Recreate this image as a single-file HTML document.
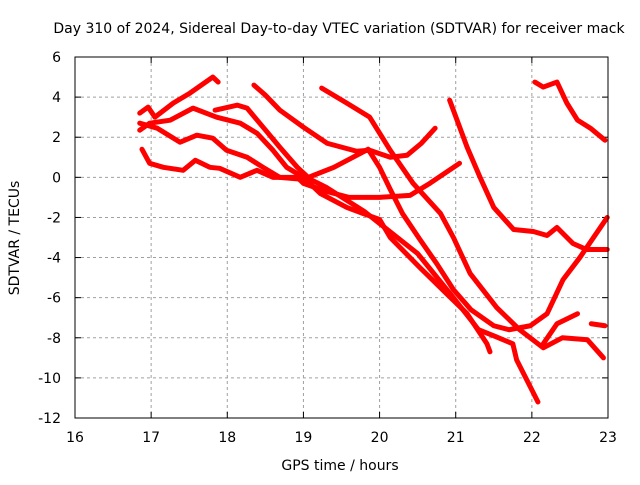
<!DOCTYPE html>
<html><head><meta charset="utf-8"><style>
body{margin:0;background:#fff;}
svg text{font-family:"DejaVu Sans","Liberation Sans",sans-serif;font-size:14px;fill:#000;}
</style></head><body>
<svg id="chart" width="640" height="480" xmlns="http://www.w3.org/2000/svg">
<rect width="640" height="480" fill="#fff"/>
<text x="339" y="33" text-anchor="middle">Day 310 of 2024, Sidereal Day-to-day VTEC variation (SDTVAR) for receiver mack</text>
<text x="340" y="470" text-anchor="middle">GPS time / hours</text>
<text transform="translate(19,238) rotate(-90)" text-anchor="middle">SDTVAR / TECUs</text>
<g id="grid"></g><g id="ticks"></g><g id="series"></g>
<rect x="75" y="57" width="533" height="361" fill="none" stroke="#000" stroke-width="1"/>
</svg>
<script>
const xTicks=[16,17,18,19,20,21,22,23];
const yTicks=[-12,-10,-8,-6,-4,-2,0,2,4,6];
const s1=[[16.85,3.2],[16.96,3.5],[17.05,3.0],[17.29,3.7],[17.51,4.2],[17.81,5.0],[17.88,4.75]];
const s2=[[16.85,2.35],[16.98,2.7],[17.25,2.85],[17.55,3.45],[17.86,3.0],[18.17,2.7],[18.39,2.2],[18.6,1.35],[18.78,0.5],[19.0,0.0],[19.22,-0.8],[19.57,-1.5],[19.78,-1.8],[20.0,-2.1],[20.14,-3.0],[20.53,-4.5],[20.88,-5.8],[21.15,-6.8],[21.41,-8.3],[21.45,-8.7]];
const s3=[[17.84,3.35],[18.13,3.6],[18.26,3.45],[18.47,2.5],[18.69,1.5],[18.92,0.5],[19.09,-0.1],[19.3,-0.5],[19.8,-1.7],[20.1,-2.6],[20.5,-3.8],[20.97,-6.0],[21.3,-7.6],[21.5,-7.9],[21.75,-8.3],[21.8,-9.1],[22.08,-11.2]];
const s4=[[16.85,2.7],[17.08,2.45],[17.38,1.75],[17.6,2.1],[17.81,1.95],[17.99,1.35],[18.26,1.0],[18.47,0.5],[18.69,0.0],[19.0,-0.1],[19.2,0.2],[19.4,0.5],[19.6,0.9],[19.85,1.4],[20.0,0.5],[20.14,-0.6],[20.3,-1.8],[20.53,-3.1],[20.75,-4.3],[20.97,-5.6],[21.2,-6.6],[21.5,-7.4],[21.7,-7.6],[21.98,-7.4],[22.2,-6.8],[22.41,-5.1],[22.63,-4.0],[22.99,-2.0]];
const s5=[[16.88,1.4],[16.98,0.7],[17.16,0.5],[17.42,0.35],[17.58,0.85],[17.77,0.5],[17.9,0.45],[18.17,0.0],[18.39,0.35],[18.6,0.0],[18.92,0.0],[19.0,-0.3],[19.3,-0.7],[19.6,-1.0],[20.0,-1.0],[20.4,-0.9],[20.66,-0.3],[21.05,0.7]];
const s6=[[18.35,4.6],[18.5,4.1],[18.69,3.35],[19.0,2.5],[19.31,1.7],[19.7,1.3],[19.87,1.35],[20.14,1.0],[20.36,1.1],[20.55,1.7],[20.73,2.45]];
const s7=[[19.24,4.45],[19.57,3.7],[19.87,3.0],[20.14,1.35],[20.44,-0.3],[20.8,-1.8],[20.97,-3.0],[21.19,-4.8],[21.54,-6.5],[21.84,-7.6],[22.15,-8.5],[22.4,-8.0],[22.73,-8.1],[22.94,-9.0]];
const s8=[[20.92,3.85],[21.15,1.5],[21.32,0.0],[21.5,-1.5],[21.76,-2.6],[22.02,-2.7],[22.2,-2.9],[22.33,-2.5],[22.54,-3.3],[22.72,-3.6],[22.99,-3.6]];
const s9=[[22.04,4.75],[22.15,4.5],[22.33,4.75],[22.46,3.7],[22.6,2.85],[22.77,2.45],[22.96,1.85]];
const s10=[[22.15,-8.3],[22.33,-7.3],[22.6,-6.8]];
const s11=[[22.78,-7.3],[22.96,-7.4]];
const allSeries=[s1,s2,s3,s4,s5,s6,s7,s8,s9,s10,s11];
const NS="http://www.w3.org/2000/svg";
const X0=75,X1=608,Y0=418,Y1=57;
function xs(v){return X0+(v-16)/(23-16)*(X1-X0);}
function ys(v){return Y0-(v+12)/(6+12)*(Y0-Y1);}
const grid=document.getElementById('grid'),ticks=document.getElementById('ticks'),ser=document.getElementById('series');
function ln(parent,name,x1,y1,x2,y2,dash){
 const g=document.createElementNS(NS,'line');
 
 
 g.setAttribute('x1',x1);g.setAttribute('x2',x2);g.setAttribute('y1',y1);g.setAttribute('y2',y2);
 g.setAttribute('stroke',dash?'#a0a0a0':'#000');if(dash)g.setAttribute('stroke-dasharray','3,3');
 parent.appendChild(g);
}
xTicks.forEach(t=>{
 const x=xs(t);
 if(t>16&&t<23)ln(grid,'x-grid-line',x,Y1,x,Y0,true);
 ln(ticks,'x-tick-mark',x,Y0,x,Y0-6,false);
 ln(ticks,'x-tick-mark',x,Y1,x,Y1+6,false);
 const tx=document.createElementNS(NS,'text');
 
 
 tx.setAttribute('x',x);tx.setAttribute('y',Y0+24);tx.setAttribute('text-anchor','middle');tx.textContent=t;ticks.appendChild(tx);
});
yTicks.forEach(t=>{
 const y=ys(t);
 if(t>-12&&t<6)ln(grid,'y-grid-line',X0,y,X1,y,true);
 ln(ticks,'y-tick-mark',X0,y,X0+6,y,false);
 ln(ticks,'y-tick-mark',X1,y,X1-6,y,false);
 const tx=document.createElementNS(NS,'text');
 
 
 tx.setAttribute('x',X0-14);tx.setAttribute('y',y+5);tx.setAttribute('text-anchor','end');tx.textContent=t;ticks.appendChild(tx);
});
allSeries.forEach((s,i)=>{
 const p=document.createElementNS(NS,'polyline');
 
 
 p.setAttribute('points',s.map(d=>xs(d[0])+','+ys(d[1])).join(' '));
 p.setAttribute('fill','none');p.setAttribute('stroke','#ff0000');p.setAttribute('stroke-width','5');
 p.setAttribute('stroke-linejoin','round');p.setAttribute('stroke-linecap','round');
 ser.appendChild(p);
});
</script>
</body></html>
